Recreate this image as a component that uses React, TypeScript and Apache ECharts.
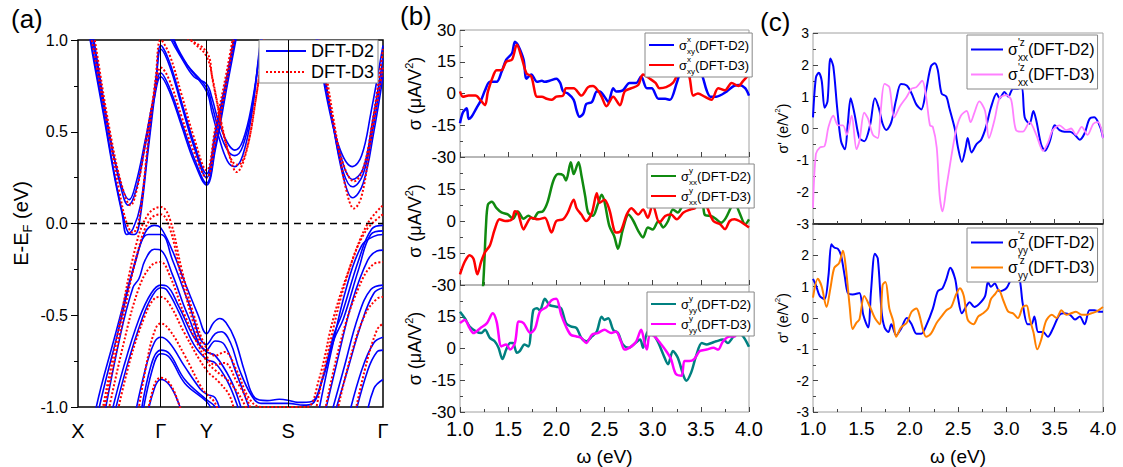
import React, { useEffect, useRef } from 'react';
import * as echarts from 'echarts';

const FONT = '"Liberation Sans", Arial, sans-serif';

// ---------- Panel (a): band structure ----------
const kPos = [0, 0.2714, 0.4214, 0.689, 1];
const kLabels = ['X', 'Γ', 'Y', 'S', 'Γ'];

// DFT-D2 conduction bands
const d2c1 = [[0.03,1.12],[0.0425,1.0],[0.09,0.55],[0.125,0.22],[0.15,0.03],[0.165,-0.05],[0.185,-0.06],[0.2,-0.01],[0.23,0.4],[0.255,0.75],[0.2714,0.97],[0.3,0.88],[0.34,0.66],[0.38,0.44],[0.4214,0.27],[0.45,0.5],[0.49,0.82],[0.515,1.05]];
const d2c2 = [[0.035,1.12],[0.05,0.98],[0.1,0.5],[0.14,0.22],[0.168,0.13],[0.19,0.22],[0.22,0.45],[0.25,0.7],[0.2714,0.82],[0.3,0.74],[0.34,0.55],[0.38,0.36],[0.4214,0.22],[0.45,0.42],[0.49,0.78],[0.52,1.05]];
const d2c3 = [[0.028,1.15],[0.04,1.0],[0.085,0.58],[0.12,0.25],[0.145,0.05],[0.16,-0.06],[0.18,-0.03],[0.205,0.1],[0.235,0.5],[0.26,0.85],[0.2714,0.95],[0.3,0.86],[0.34,0.64],[0.38,0.42],[0.4214,0.25],[0.45,0.47],[0.49,0.8],[0.515,1.05]];
const d2c4 = [[0.04,1.12],[0.055,0.97],[0.1,0.52],[0.14,0.2],[0.165,0.1],[0.19,0.18],[0.22,0.42],[0.25,0.68],[0.2714,0.8],[0.3,0.72],[0.34,0.53],[0.38,0.34],[0.4214,0.21],[0.45,0.4],[0.49,0.76],[0.52,1.02]];
const d2c5 = [[0.29,1.08],[0.306,1.0],[0.34,0.9],[0.38,0.8],[0.4214,0.76],[0.44,0.68],[0.46,0.56],[0.49,0.44],[0.514,0.4],[0.54,0.45],[0.57,0.65],[0.602,1.0],[0.615,1.12]];
const d2c6 = [[0.3,1.1],[0.32,0.98],[0.36,0.86],[0.4214,0.72],[0.44,0.6],[0.46,0.48],[0.49,0.34],[0.514,0.31],[0.54,0.37],[0.57,0.6],[0.595,0.95],[0.61,1.12]];
const d2c7 = [[0.295,1.1],[0.315,0.99],[0.35,0.88],[0.4214,0.74],[0.44,0.64],[0.46,0.52],[0.49,0.4],[0.514,0.37],[0.54,0.42],[0.57,0.63],[0.6,0.98],[0.612,1.12]];
const d2c8 = [[0.76,1.15],[0.782,1.0],[0.82,0.65],[0.86,0.4],[0.9,0.31],[0.93,0.37],[0.96,0.6],[1.0,0.97]];
const d2c9 = [[0.765,1.15],[0.79,0.95],[0.83,0.6],[0.87,0.32],[0.9,0.24],[0.935,0.3],[0.965,0.55],[1.0,0.9]];
const d2c10 = [[0.77,1.15],[0.795,0.93],[0.835,0.55],[0.87,0.28],[0.9,0.2],[0.935,0.27],[0.965,0.5],[1.0,0.85]];
const d2c11 = [[0.775,1.15],[0.8,0.9],[0.84,0.5],[0.875,0.22],[0.9,0.14],[0.935,0.22],[0.97,0.5],[1.0,0.8]];

// DFT-D2 valence bands
const d2v1 = [[0.05,-1.15],[0.06,-1.0],[0.12,-0.62],[0.18,-0.25],[0.22,-0.05],[0.25,-0.01],[0.2714,-0.024],[0.31,-0.15],[0.35,-0.32],[0.394,-0.5],[0.4214,-0.6],[0.445,-0.54],[0.465,-0.518],[0.485,-0.54],[0.514,-0.63],[0.547,-0.81],[0.58,-0.95],[0.62,-0.965],[0.66,-0.958],[0.689,-0.963],[0.72,-0.975],[0.766,-0.97],[0.8,-0.85],[0.84,-0.6],[0.864,-0.5],[0.92,-0.2],[0.963,-0.03],[1.0,-0.01]];
const d2v2 = [[0.055,-1.15],[0.07,-1.0],[0.13,-0.6],[0.19,-0.2],[0.23,-0.06],[0.2714,-0.06],[0.31,-0.2],[0.36,-0.42],[0.4214,-0.66],[0.45,-0.6],[0.47,-0.59],[0.5,-0.65],[0.53,-0.8],[0.57,-0.94],[0.6,-0.98],[0.689,-0.98],[0.74,-0.99],[0.766,-0.985],[0.8,-0.86],[0.84,-0.63],[0.87,-0.52],[0.92,-0.25],[0.96,-0.06],[1.0,-0.04]];
const d2v3 = [[0.08,-1.1],[0.14,-0.6],[0.18,-0.35],[0.2,-0.3],[0.22,-0.2],[0.25,-0.14],[0.2714,-0.145],[0.31,-0.28],[0.36,-0.5],[0.4214,-0.69],[0.45,-0.64],[0.48,-0.66],[0.52,-0.82],[0.56,-1.0],[0.58,-1.1]];
const d2v4 = [[0.1,-1.1],[0.15,-0.78],[0.2,-0.52],[0.24,-0.38],[0.2714,-0.336],[0.29,-0.34],[0.33,-0.45],[0.38,-0.62],[0.4214,-0.7],[0.45,-0.72],[0.5,-0.85],[0.53,-0.98],[0.55,-1.1]];
const d2v5 = [[0.11,-1.1],[0.16,-0.78],[0.21,-0.52],[0.245,-0.39],[0.2714,-0.35],[0.29,-0.36],[0.33,-0.48],[0.38,-0.66],[0.4214,-0.74],[0.45,-0.76],[0.49,-0.86],[0.52,-0.98],[0.54,-1.1]];
const d2v6 = [[0.18,-1.1],[0.22,-0.8],[0.25,-0.65],[0.2714,-0.62],[0.3,-0.65],[0.35,-0.78],[0.4,-0.9],[0.4214,-0.93],[0.45,-0.95],[0.47,-1.05]];
const d2v7 = [[0.2,-1.1],[0.24,-0.77],[0.2714,-0.69],[0.3,-0.71],[0.35,-0.85],[0.4214,-0.96],[0.45,-1.0],[0.47,-1.1]];
const d2v8 = [[0.205,-1.1],[0.243,-0.8],[0.2714,-0.71],[0.3,-0.73],[0.35,-0.87],[0.4214,-0.97],[0.44,-1.02]];
const d2v9 = [[0.22,-1.1],[0.25,-0.9],[0.2714,-0.85],[0.3,-0.88],[0.33,-0.98],[0.35,-1.1]];
const d2r1 = [[0.78,-1.1],[0.83,-0.7],[0.88,-0.35],[0.93,-0.12],[0.97,-0.07],[1.0,-0.06]];
const d2r2 = [[0.8,-1.1],[0.85,-0.75],[0.9,-0.42],[0.95,-0.2],[0.98,-0.15],[1.0,-0.145]];
const d2r3 = [[0.82,-1.1],[0.87,-0.8],[0.92,-0.5],[0.96,-0.36],[1.0,-0.336]];
const d2r4 = [[0.83,-1.1],[0.88,-0.82],[0.93,-0.54],[0.97,-0.38],[1.0,-0.35]];
const d2r5 = [[0.88,-1.1],[0.93,-0.8],[0.97,-0.65],[1.0,-0.62]];
const d2r6 = [[0.9,-1.1],[0.95,-0.8],[0.98,-0.7],[1.0,-0.69]];
const d2r7 = [[0.94,-1.1],[0.97,-0.9],[1.0,-0.85]];

// DFT-D3 conduction bands
const d3c1 = [[0.03,1.15],[0.045,1.0],[0.095,0.55],[0.135,0.18],[0.16,0.0],[0.18,-0.05],[0.2,0.02],[0.23,0.45],[0.255,0.8],[0.2714,1.0],[0.3,0.92],[0.34,0.7],[0.38,0.47],[0.4214,0.29],[0.45,0.52],[0.49,0.85],[0.515,1.08]];
const d3c2 = [[0.04,1.15],[0.055,1.0],[0.105,0.5],[0.145,0.2],[0.172,0.1],[0.195,0.2],[0.225,0.48],[0.255,0.75],[0.2714,0.85],[0.3,0.78],[0.34,0.58],[0.38,0.39],[0.4214,0.25],[0.45,0.45],[0.49,0.8],[0.515,1.05]];
const d3c3 = [[0.3,1.1],[0.35,1.02],[0.4214,0.935],[0.44,0.8],[0.47,0.55],[0.5,0.35],[0.52,0.28],[0.55,0.38],[0.58,0.65],[0.61,1.0],[0.62,1.1]];
const d3c4 = [[0.32,1.1],[0.37,1.0],[0.4214,0.91],[0.445,0.75],[0.475,0.5],[0.505,0.34],[0.525,0.32],[0.555,0.42],[0.585,0.7],[0.615,1.05]];
const d3c5 = [[0.77,1.15],[0.8,0.9],[0.84,0.52],[0.875,0.3],[0.905,0.23],[0.935,0.3],[0.965,0.55],[1.0,0.95]];
const d3c6 = [[0.78,1.15],[0.81,0.85],[0.85,0.45],[0.88,0.18],[0.905,0.082],[0.93,0.15],[0.96,0.45],[1.0,0.85]];

// DFT-D3 valence bands
const d3v1 = [[0.07,-1.1],[0.13,-0.6],[0.19,-0.12],[0.23,0.05],[0.2714,0.09],[0.3,0.03],[0.34,-0.25],[0.38,-0.5],[0.4214,-0.68],[0.45,-0.72],[0.48,-0.7],[0.52,-0.8],[0.56,-0.95],[0.6,-1.0],[0.7,-1.0],[0.75,-1.0],[0.79,-0.85],[0.84,-0.5],[0.9,-0.2],[0.95,0.0],[1.0,0.1]];
const d3v2 = [[0.075,-1.1],[0.135,-0.62],[0.195,-0.16],[0.235,0.02],[0.2714,0.05],[0.3,-0.02],[0.34,-0.3],[0.38,-0.55],[0.4214,-0.72],[0.45,-0.77],[0.48,-0.76],[0.52,-0.86],[0.56,-0.98],[0.58,-1.1]];
const d3v3 = [[0.09,-1.1],[0.15,-0.65],[0.2,-0.35],[0.24,-0.23],[0.2714,-0.21],[0.3,-0.28],[0.35,-0.5],[0.4214,-0.75],[0.45,-0.8],[0.5,-0.87],[0.55,-1.0],[0.57,-1.1]];
const d3v4 = [[0.12,-1.1],[0.17,-0.75],[0.22,-0.5],[0.25,-0.41],[0.2714,-0.4],[0.3,-0.44],[0.35,-0.6],[0.4214,-0.8],[0.46,-0.86],[0.5,-0.95],[0.52,-1.1]];
const d3v5 = [[0.19,-1.1],[0.23,-0.72],[0.255,-0.57],[0.2714,-0.545],[0.3,-0.58],[0.35,-0.72],[0.4,-0.88],[0.4214,-0.93],[0.45,-0.98],[0.47,-1.1]];
const d3v6 = [[0.22,-1.1],[0.25,-0.88],[0.2714,-0.84],[0.3,-0.87],[0.33,-0.98],[0.35,-1.1]];
const d3r1 = [[0.77,-1.1],[0.82,-0.7],[0.88,-0.3],[0.94,-0.05],[1.0,0.05]];
const d3r2 = [[0.8,-1.1],[0.86,-0.65],[0.92,-0.35],[0.97,-0.22],[1.0,-0.21]];
const d3r3 = [[0.84,-1.1],[0.89,-0.75],[0.94,-0.5],[0.98,-0.41],[1.0,-0.4]];
const d3r4 = [[0.9,-1.1],[0.94,-0.8],[0.98,-0.58],[1.0,-0.545]];

const bandsD2 = [d2c1,d2c2,d2c3,d2c4,d2c5,d2c6,d2c7,d2c8,d2c9,d2c10,d2c11,d2v1,d2v2,d2v3,d2v4,d2v5,d2v6,d2v7,d2v8,d2v9,d2r1,d2r2,d2r3,d2r4,d2r5,d2r6,d2r7];
const bandsD3 = [d3c1,d3c2,d3c3,d3c4,d3c5,d3c6,d3v1,d3v2,d3v3,d3v4,d3v5,d3v6,d3r1,d3r2,d3r3,d3r4];

// ---------- Panel (b): sigma (uA/V^2) ----------
const b1D2 = [[1.0,-14],[1.03,-9],[1.07,-7],[1.09,-12],[1.12,-11],[1.17,-7],[1.22,-3],[1.26,1.5],[1.31,5.5],[1.38,5.5],[1.43,10],[1.48,16],[1.54,19],[1.57,24.5],[1.6,23],[1.66,16],[1.69,7],[1.74,9],[1.8,5.5],[1.85,6],[1.88,5.5],[1.93,6],[2.0,7],[2.04,5],[2.07,1],[2.12,0],[2.18,-3],[2.21,-8],[2.24,-11],[2.28,-9.5],[2.31,-5],[2.37,-4],[2.42,1],[2.45,1],[2.5,-1.5],[2.54,-4],[2.59,2.5],[2.62,1],[2.69,1.5],[2.76,5],[2.83,5],[2.88,8],[2.94,2.5],[2.99,2.5],[3.06,-2.5],[3.13,-2.5],[3.18,-3],[3.25,5],[3.28,9],[3.32,11],[3.39,8],[3.46,12],[3.51,9],[3.56,1.5],[3.6,-1.5],[3.66,-1.5],[3.77,1],[3.84,3.5],[3.9,4],[3.96,2.5],[4.0,-1]];
const b1D3 = [[1.0,1],[1.03,-1.5],[1.09,-1],[1.16,-1],[1.21,-3],[1.26,-5.5],[1.29,1],[1.35,9],[1.38,11],[1.43,11],[1.48,15],[1.54,16],[1.59,23],[1.64,17],[1.69,9.5],[1.74,8],[1.8,-1.5],[1.85,-1.5],[1.9,-2.5],[1.95,-3],[2.0,-1.5],[2.07,-1],[2.1,2.5],[2.18,2.5],[2.26,-1],[2.33,3],[2.38,3.5],[2.43,1.5],[2.47,-1.5],[2.52,-6],[2.59,-1.5],[2.66,-5.5],[2.71,1],[2.78,2.5],[2.85,4],[2.9,9],[2.97,7],[3.03,5],[3.07,2.5],[3.14,3],[3.21,5],[3.26,9],[3.32,12],[3.38,8],[3.42,-1],[3.47,0],[3.54,-1.5],[3.61,-3],[3.68,2.5],[3.75,1.5],[3.82,5],[3.89,3.5],[3.94,6],[4.0,9]];
const b2D2 = [[1.2,-45],[1.24,-30],[1.27,-2],[1.29,7.7],[1.33,9],[1.38,6],[1.43,4],[1.5,3],[1.55,1],[1.6,4.5],[1.66,1],[1.71,2.5],[1.76,1],[1.81,4],[1.86,4.5],[1.91,9],[1.97,19],[2.02,22],[2.07,21.5],[2.1,19],[2.15,27.5],[2.18,22],[2.23,27.5],[2.26,21.5],[2.3,11.5],[2.33,4],[2.38,2.5],[2.43,7.7],[2.47,12.3],[2.5,9],[2.55,-2.3],[2.6,-7],[2.64,-13],[2.69,-4],[2.75,3],[2.8,0],[2.85,-4.6],[2.9,-7.7],[2.95,-3],[3.0,-4],[3.06,0],[3.11,-3],[3.16,0],[3.21,5.4],[3.26,4],[3.32,7.7],[3.39,8.5],[3.45,10],[3.51,11.5],[3.54,3],[3.61,2.3],[3.66,0.8],[3.71,-0.8],[3.76,1.5],[3.82,7],[3.85,8.5],[3.9,4],[3.96,-1.5],[4.0,0.8]];
const b2D3 = [[1.0,-25],[1.05,-19],[1.1,-16],[1.14,-17.7],[1.18,-25],[1.22,-19],[1.26,-14.6],[1.31,-11.5],[1.36,-4],[1.41,0.8],[1.47,0],[1.54,0.8],[1.57,4.6],[1.6,4],[1.66,-4],[1.69,-1.5],[1.74,1.5],[1.81,0.8],[1.88,1.5],[1.95,-5.4],[2.0,0],[2.07,0.8],[2.12,4],[2.18,10],[2.21,6],[2.26,3],[2.31,0],[2.37,4],[2.42,13],[2.45,8.5],[2.5,10],[2.55,5.4],[2.62,-5.4],[2.67,-4.6],[2.73,3],[2.78,6],[2.85,3],[2.9,5.4],[2.95,1.5],[3.0,7.7],[3.07,-0.8],[3.13,2.3],[3.19,3],[3.25,0.8],[3.32,4],[3.39,5.4],[3.44,6],[3.49,10.8],[3.54,10],[3.57,6],[3.63,0],[3.7,-1.5],[3.75,-3.8],[3.8,0],[3.85,0.8],[3.9,0],[4.0,-3]];
const b3D2 = [[1.0,17.4],[1.05,14.3],[1.1,10.4],[1.17,8],[1.22,7.3],[1.26,8.8],[1.31,5],[1.36,3.4],[1.4,0.3],[1.44,-5],[1.48,-0.5],[1.52,2.6],[1.55,2.6],[1.59,-2],[1.62,-1.2],[1.67,1.9],[1.71,1],[1.76,18],[1.8,19],[1.83,18],[1.88,23.5],[1.93,20.5],[2.0,19.7],[2.05,19],[2.1,12],[2.15,10.4],[2.21,9.6],[2.26,5],[2.31,3.4],[2.37,5.7],[2.42,8],[2.47,15],[2.5,13.5],[2.54,14.3],[2.59,8.8],[2.64,7.3],[2.69,1.9],[2.75,0.3],[2.82,2.6],[2.87,4.2],[2.9,0.3],[2.95,8],[3.0,7.3],[3.06,2.6],[3.11,-2.8],[3.16,-7.4],[3.21,-1.2],[3.26,-4.3],[3.32,-12.9],[3.35,-15.2],[3.4,-11.3],[3.45,-3.6],[3.51,2.6],[3.56,1.9],[3.61,2.6],[3.66,3.4],[3.73,4.2],[3.78,2.6],[3.84,5.7],[3.89,7.3],[3.94,5.7],[4.0,0.8]];
const b3D3 = [[1.0,12],[1.05,13.5],[1.1,9.6],[1.14,7.3],[1.21,9.6],[1.28,12],[1.34,16.6],[1.38,12.7],[1.43,1],[1.48,1.9],[1.52,-0.5],[1.57,2.6],[1.61,12.7],[1.66,12],[1.73,7.3],[1.78,9.6],[1.83,17.4],[1.9,19.7],[1.95,22.8],[2.0,23.5],[2.05,16],[2.1,10.4],[2.15,6.5],[2.21,5.7],[2.26,5],[2.31,2.6],[2.37,6.5],[2.43,7.3],[2.5,8.8],[2.57,7.3],[2.62,8],[2.67,3.4],[2.71,-0.5],[2.78,1],[2.83,3.4],[2.88,8.8],[2.92,1.9],[2.94,-0.5],[2.97,6.5],[3.02,5.7],[3.09,1.9],[3.14,-1.2],[3.19,-5],[3.24,-12],[3.3,-12.9],[3.33,-5.9],[3.38,-5.9],[3.43,-5],[3.49,-1.2],[3.56,-0.5],[3.63,0.3],[3.68,-0.5],[3.73,3.4],[3.8,5.7],[3.85,5.7],[3.9,9.6],[3.96,8],[4.0,7.3]];

// ---------- Panel (c): sigma' (e/V^2) ----------
const c1D2 = [[1.0,0.35],[1.03,1.6],[1.06,1.75],[1.09,1.5],[1.12,0.65],[1.15,0.85],[1.18,2.2],[1.21,1.95],[1.25,0.65],[1.29,-0.4],[1.33,-0.65],[1.36,0.15],[1.39,0.95],[1.43,0.45],[1.48,-0.3],[1.53,-0.4],[1.59,0.1],[1.64,0.95],[1.68,0.65],[1.72,0.15],[1.76,-0.05],[1.81,0.2],[1.86,0.9],[1.91,1.4],[1.97,1.35],[2.02,1.1],[2.07,0.75],[2.12,0.6],[2.17,1.2],[2.22,1.95],[2.26,2.05],[2.29,1.85],[2.33,1.1],[2.38,1.0],[2.41,0.65],[2.47,-0.05],[2.5,-0.6],[2.54,-1.05],[2.58,-0.6],[2.6,-0.3],[2.64,-0.75],[2.69,-0.5],[2.74,-0.35],[2.79,0.05],[2.84,0.65],[2.9,1.1],[2.93,0.95],[2.98,1.15],[3.02,1.0],[3.07,1.25],[3.12,1.25],[3.16,1.3],[3.19,0.35],[3.24,0.15],[3.28,0.55],[3.31,0.25],[3.36,-0.5],[3.4,-0.7],[3.45,-0.4],[3.5,0.1],[3.55,-0.05],[3.6,-0.1],[3.66,-0.1],[3.71,-0.2],[3.76,-0.35],[3.81,-0.15],[3.86,0.3],[3.91,0.35],[3.97,0.05],[4.0,-0.3]];
const c1D3 = [[1.0,-2.5],[1.03,-0.8],[1.07,-0.6],[1.12,-0.55],[1.16,0.05],[1.21,0.4],[1.26,0.1],[1.31,0.1],[1.35,-0.2],[1.4,0.4],[1.45,-0.65],[1.48,-0.4],[1.53,0.5],[1.57,0.3],[1.62,-0.2],[1.67,-0.3],[1.7,0.55],[1.74,1.4],[1.79,1.3],[1.84,0.35],[1.9,0.7],[1.97,1.0],[2.02,1.25],[2.07,1.3],[2.13,1.5],[2.17,1.0],[2.21,0.1],[2.24,0.05],[2.28,-0.6],[2.31,-2.1],[2.34,-2.6],[2.38,-1.85],[2.43,-0.9],[2.48,-0.05],[2.53,0.4],[2.59,0.55],[2.63,0.2],[2.67,0.5],[2.72,0.85],[2.78,0.55],[2.82,-0.3],[2.88,0.3],[2.93,0.95],[3.0,1.05],[3.05,0.9],[3.1,-0.05],[3.17,-0.1],[3.24,0.2],[3.31,-0.2],[3.38,-0.7],[3.43,-0.45],[3.48,-0.05],[3.55,0.1],[3.62,-0.05],[3.67,0.0],[3.72,-0.2],[3.78,0.05],[3.84,-0.2],[3.9,0.15],[3.95,0.2],[4.0,-0.3]];
const c2D2 = [[1.0,1.25],[1.03,1.05],[1.07,0.7],[1.12,0.6],[1.16,1.35],[1.19,2.35],[1.22,2.25],[1.26,2.2],[1.29,2.0],[1.33,1.3],[1.36,0.8],[1.41,0.75],[1.48,0.8],[1.52,0.1],[1.57,-0.3],[1.6,0.85],[1.64,2.05],[1.67,1.9],[1.71,0.2],[1.74,-0.3],[1.78,-0.45],[1.81,-0.2],[1.86,-0.55],[1.91,-0.35],[1.97,0.0],[2.02,-0.2],[2.07,-0.5],[2.12,-0.5],[2.17,-0.25],[2.24,0.3],[2.29,0.85],[2.34,0.95],[2.38,1.25],[2.42,1.6],[2.47,1.25],[2.5,0.65],[2.54,0.15],[2.59,0.4],[2.62,0.5],[2.67,0.35],[2.72,0.45],[2.78,0.7],[2.81,1.15],[2.84,1.0],[2.88,1.1],[2.93,0.85],[3.0,0.95],[3.05,1.25],[3.1,1.5],[3.14,1.2],[3.17,0.45],[3.22,-0.2],[3.26,-0.2],[3.29,0.05],[3.33,-0.45],[3.38,-0.45],[3.43,-0.6],[3.48,-0.35],[3.55,0.1],[3.6,0.15],[3.66,0.1],[3.71,-0.05],[3.76,0.05],[3.81,-0.2],[3.86,0.25],[3.91,0.25],[3.97,0.2],[4.0,0.2]];
const c2D3 = [[1.0,0.65],[1.05,1.25],[1.09,1.0],[1.14,0.35],[1.18,0.95],[1.22,1.6],[1.27,1.75],[1.31,2.15],[1.34,1.6],[1.38,0.35],[1.41,-0.35],[1.45,-0.15],[1.48,-0.05],[1.53,0.7],[1.59,0.35],[1.64,0.0],[1.69,-0.2],[1.72,1.05],[1.75,1.15],[1.79,0.3],[1.83,-0.1],[1.86,-0.6],[1.91,-0.3],[1.97,-0.15],[2.02,0.2],[2.07,0.3],[2.1,0.1],[2.14,-0.4],[2.17,-0.6],[2.22,-0.5],[2.28,-0.15],[2.33,0.05],[2.38,0.25],[2.43,0.35],[2.48,0.75],[2.52,0.95],[2.56,0.7],[2.6,-0.05],[2.66,-0.2],[2.71,0.05],[2.76,0.15],[2.81,0.3],[2.84,0.6],[2.88,0.75],[2.92,0.9],[2.97,0.55],[3.02,0.2],[3.07,0.15],[3.12,0.0],[3.17,0.35],[3.21,0.4],[3.24,0.0],[3.28,-0.45],[3.32,-1.0],[3.36,-0.7],[3.41,-0.1],[3.47,0.1],[3.52,0.0],[3.57,0.25],[3.62,0.1],[3.67,0.15],[3.72,0.2],[3.78,0.1],[3.83,0.1],[3.88,0.15],[3.93,0.2],[4.0,0.35]];

const bTicksY = { min: -30, max: 30, interval: 15 };
const cTicksY = { min: -3, max: 3, interval: 1 };
const wTicks = { min: 1, max: 4, interval: 0.5 };

const legendText: Record<string, string> = {
  b1D2: '{m|σ}{sup|x}{sub|xy}{m|(DFT-D2)}',
  b1D3: '{m|σ}{sup|x}{sub|xy}{m|(DFT-D3)}',
  b2D2: '{m|σ}{sup|y}{sub|xx}{m|(DFT-D2)}',
  b2D3: '{m|σ}{sup|y}{sub|xx}{m|(DFT-D3)}',
  b3D2: '{m|σ}{sup|y}{sub|yy}{m|(DFT-D2)}',
  b3D3: '{m|σ}{sup|y}{sub|yy}{m|(DFT-D3)}',
  c1D2: "{m|σ}{sup|'z}{sub|xx}{m|(DFT-D2)}",
  c1D3: "{m|σ}{sup|'z}{sub|xx}{m|(DFT-D3)}",
  c2D2: "{m|σ}{sup|'z}{sub|yy}{m|(DFT-D2)}",
  c2D3: "{m|σ}{sup|'z}{sub|yy}{m|(DFT-D3)}",
};

function buildOption() {
  const grids = [
    { left: 78, top: 40, width: 305, height: 367, show: true, borderColor: '#000', borderWidth: 1.5, backgroundColor: 'transparent' },
    { left: 460, top: 30, width: 289, height: 127, show: true, borderColor: '#a0a0a0', borderWidth: 1 },
    { left: 460, top: 157, width: 289, height: 128, show: true, borderColor: '#a0a0a0', borderWidth: 1 },
    { left: 460, top: 285, width: 289, height: 128, show: true, borderColor: '#a0a0a0', borderWidth: 1 },
    { left: 813, top: 33, width: 290, height: 191, show: true, borderColor: '#a0a0a0', borderWidth: 1 },
    { left: 813, top: 224, width: 290, height: 192, show: true, borderColor: '#a0a0a0', borderWidth: 1 },
  ];

  const tickStyle = { color: '#444', width: 1 };

  const xAxes: any[] = [
    {
      gridIndex: 0, type: 'value', min: 0, max: 1,
      axisLine: { show: false, onZero: false },
      axisTick: { show: false }, splitLine: { show: false },
      axisLabel: {
        customValues: kPos,
        formatter: (v: number) => {
          const i = kPos.findIndex((p) => Math.abs(p - v) < 1e-6);
          return i >= 0 ? kLabels[i] : '';
        },
        fontSize: 20, color: '#000', margin: 14, fontFamily: FONT,
      },
    },
  ];
  const wAxis = (grid: number, showLabel: boolean, fontSize: number, blackLine: boolean) => ({
    gridIndex: grid, type: 'value', ...wTicks,
    axisLine: blackLine ? { show: true, onZero: false, lineStyle: { color: '#000', width: 1.5 } } : { show: false, onZero: false },
    axisTick: { show: true, inside: true, length: 5, lineStyle: tickStyle },
    minorTick: { show: true, splitNumber: 2, length: 3, lineStyle: tickStyle },
    splitLine: { show: false },
    axisLabel: { show: showLabel, fontSize, color: '#000', margin: 7, fontFamily: FONT, formatter: (v: number) => v.toFixed(1) },
    name: showLabel ? 'ω (eV)' : '',
    nameLocation: 'middle', nameGap: 35,
    nameTextStyle: { fontSize: 19, color: '#000', fontFamily: FONT },
  });
  xAxes.push(wAxis(1, false, 20, false), wAxis(2, false, 20, false), wAxis(3, true, 20, false));
  xAxes.push(wAxis(4, false, 19, true), wAxis(5, true, 19, false));

  const yAxes: any[] = [
    {
      gridIndex: 0, type: 'value', min: -1, max: 1, interval: 0.5,
      axisLine: { show: false, onZero: false },
      axisTick: { show: true, inside: false, length: 7, lineStyle: { color: '#000' } },
      minorTick: { show: true, splitNumber: 2, length: 4, lineStyle: { color: '#000' } },
      splitLine: { show: false },
      axisLabel: { formatter: (v: number) => v.toFixed(1), fontSize: 16, color: '#000', margin: 10, fontFamily: FONT },
      name: '{m|E-E}{s|F}{m| (eV)}',
      nameLocation: 'middle', nameGap: 44,
      nameTextStyle: {
        color: '#000', fontFamily: FONT, fontSize: 20,
        rich: {
          m: { fontSize: 20, fontFamily: FONT, color: '#000', lineHeight: 26 },
          s: { fontSize: 13, fontFamily: FONT, color: '#000', verticalAlign: 'bottom', lineHeight: 16 },
        },
      },
    },
  ];
  const sAxis = (grid: number, ticks: any, showMax: boolean, fontSize: number, name: string, nameSize: number, gap: number) => ({
    gridIndex: grid, type: 'value', ...ticks,
    axisLine: { show: false, onZero: false },
    axisTick: { show: true, inside: true, length: 5, lineStyle: tickStyle },
    minorTick: { show: true, splitNumber: 2, length: 3, lineStyle: tickStyle },
    splitLine: { show: false },
    axisLabel: { showMaxLabel: showMax, fontSize, color: '#000', margin: 4, fontFamily: FONT },
    name, nameLocation: 'middle', nameGap: gap,
    nameTextStyle: {
      color: '#000', fontFamily: FONT, fontSize: nameSize,
      rich: {
        m: { fontSize: nameSize, fontFamily: FONT, color: '#000', lineHeight: nameSize + 6 },
        s: { fontSize: Math.round(nameSize * 0.6), fontFamily: FONT, color: '#000', verticalAlign: 'top', lineHeight: nameSize },
      },
    },
  });
  const bName = '{m|σ (μA/V}{s|2}{m|)}';
  const cName = "{m|σ' (e/V}{s|2}{m|)}";
  yAxes.push(
    sAxis(1, bTicksY, true, 17, bName, 18, 33),
    sAxis(2, bTicksY, false, 17, bName, 18, 33),
    sAxis(3, bTicksY, false, 17, bName, 18, 33),
    sAxis(4, cTicksY, true, 14, cName, 14, 20),
    sAxis(5, cTicksY, false, 14, cName, 14, 20),
  );

  const series: any[] = [];
  // reference lines for panel (a)
  series.push({
    type: 'line', name: 'ref', xAxisIndex: 0, yAxisIndex: 0, data: [], silent: true,
    markLine: {
      silent: true, symbol: ['none', 'none'], label: { show: false }, animation: false,
      lineStyle: { color: '#000', width: 1, type: 'solid' },
      data: [
        { xAxis: kPos[1] }, { xAxis: kPos[2] }, { xAxis: kPos[3] },
        { yAxis: 0, lineStyle: { color: '#000', width: 1.3, type: [7, 5] } },
      ],
    },
  });
  bandsD2.forEach((b) => series.push({
    type: 'line', name: 'DFT-D2', xAxisIndex: 0, yAxisIndex: 0, data: b,
    symbol: 'none', showSymbol: false, smooth: 0.4, silent: true, clip: true,
    lineStyle: { color: '#0000ff', width: 1.6 }, itemStyle: { color: '#0000ff' },
  }));
  bandsD3.forEach((b) => series.push({
    type: 'line', name: 'DFT-D3', xAxisIndex: 0, yAxisIndex: 0, data: b,
    symbol: 'none', showSymbol: false, smooth: 0.4, silent: true, clip: true,
    lineStyle: { color: '#ff0000', width: 2, type: [2, 2] }, itemStyle: { color: '#ff0000' },
  }));

  const curve = (name: string, axis: number, data: number[][], color: string, width: number) => ({
    type: 'line', name, xAxisIndex: axis, yAxisIndex: axis, data,
    symbol: 'none', showSymbol: false, smooth: 0.3, silent: true, clip: true,
    lineStyle: { color, width }, itemStyle: { color },
  });
  series.push(
    curve('b1D2', 1, b1D2, '#0000ff', 2.5), curve('b1D3', 1, b1D3, '#ff0000', 2.5),
    curve('b2D2', 2, b2D2, '#108a10', 2.5), curve('b2D3', 2, b2D3, '#ff0000', 2.5),
    curve('b3D2', 3, b3D2, '#008080', 2.5), curve('b3D3', 3, b3D3, '#ff00ff', 2.5),
    curve('c1D2', 4, c1D2, '#0000ff', 2), curve('c1D3', 4, c1D3, '#ff80ff', 1.8),
    curve('c2D2', 5, c2D2, '#0000ff', 2), curve('c2D3', 5, c2D3, '#ff8000', 2),
  );

  const hiddenSymbol = { opacity: 0, color: 'transparent', borderWidth: 0 };
  const richLegend = (main: number, small: number, lh: number) => ({
    fontFamily: FONT, color: '#000', fontSize: main,
    rich: {
      m: { fontSize: main, fontFamily: FONT, color: '#000', lineHeight: lh },
      sup: { fontSize: small, fontFamily: FONT, color: '#000', width: 0, verticalAlign: 'top', lineHeight: small + 2 },
      sub: { fontSize: small, fontFamily: FONT, color: '#000', verticalAlign: 'bottom', lineHeight: small + 2 },
    },
  });
  const smallLegend = (names: string[], left: number, top: number, big: boolean) => ({
    orient: 'vertical', left, top, data: names, selectedMode: false,
    itemWidth: big ? 32 : 25, itemHeight: 10, itemGap: 0,
    padding: [2, 3, 2, 3],
    itemStyle: hiddenSymbol,
    borderColor: '#888', borderWidth: 1, backgroundColor: '#fff',
    formatter: (n: string) => legendText[n] || n,
    textStyle: big ? richLegend(16, 10, 25) : richLegend(13, 8, 20),
  });

  const legends = [
    {
      orient: 'vertical', left: 259, top: 40, data: ['DFT-D2', 'DFT-D3'], selectedMode: false,
      itemWidth: 40, itemHeight: 10, itemGap: 3, padding: [2, 4, 2, 6],
      itemStyle: hiddenSymbol,
      borderColor: '#888', borderWidth: 1, backgroundColor: '#fff',
      textStyle: { fontSize: 18, color: '#000', fontFamily: FONT },
    },
    smallLegend(['b1D2', 'b1D3'], 645, 33, false),
    smallLegend(['b2D2', 'b2D3'], 647, 164, false),
    smallLegend(['b3D2', 'b3D3'], 647, 292, false),
    smallLegend(['c1D2', 'c1D3'], 967, 35, true),
    smallLegend(['c2D2', 'c2D3'], 967, 228, true),
  ];

  const graphic = [
    { type: 'text', left: 11, top: 6, style: { text: '(a)', fontSize: 26, fontFamily: FONT, fill: '#000' } },
    { type: 'text', left: 400, top: 3, style: { text: '(b)', fontSize: 26, fontFamily: FONT, fill: '#000' } },
    { type: 'text', left: 760, top: 9, style: { text: '(c)', fontSize: 26, fontFamily: FONT, fill: '#000' } },
  ];

  return {
    animation: false,
    backgroundColor: '#fff',
    textStyle: { fontFamily: FONT },
    grid: grids,
    xAxis: xAxes,
    yAxis: yAxes,
    series,
    legend: legends,
    graphic,
  };
}

export default function App() {
  const ref = useRef<HTMLDivElement>(null);
  useEffect(() => {
    document.body.style.margin = '0';
    const chart = echarts.init(ref.current as HTMLDivElement, null, { renderer: 'svg' });
    chart.setOption(buildOption() as any);
    return () => chart.dispose();
  }, []);
  return <div ref={ref} style={{ width: 1123, height: 467, position: 'absolute', left: 0, top: 0 }} />;
}
